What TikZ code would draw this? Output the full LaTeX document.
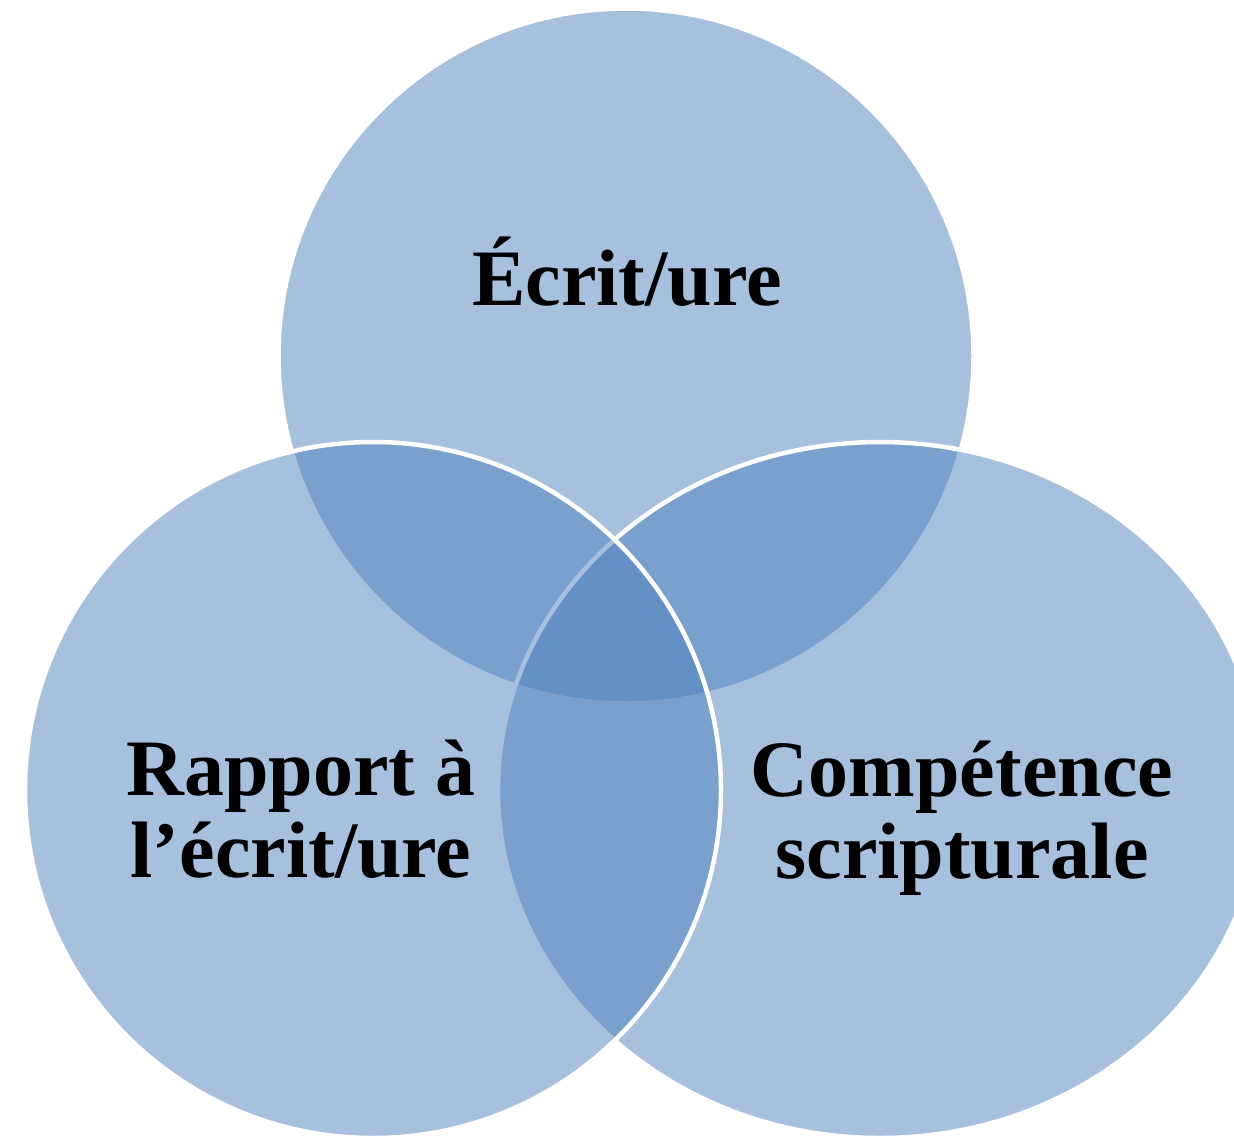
\documentclass[tikz,border=0pt]{standalone}
\usepackage{fontspec}
\setmainfont{Liberation Serif}
\usetikzlibrary{shapes.geometric}
\definecolor{vennblue}{HTML}{4F81BD}
\tikzset{
  venn/.style={fill=vennblue, fill opacity=0.5, draw=white, line width=4.5pt, inner sep=0pt, outer sep=0pt},
  label/.style={font=\fontsize{80}{82}\selectfont\bfseries, text=black, align=center, inner sep=0pt, anchor=base}
}
\begin{document}
\begin{tikzpicture}[x=1pt,y=-1pt]
\useasboundingbox (0,0) rectangle (1234,1140);
\clip (0,0) rectangle (1234,1140);
\node[venn, circle, minimum size=695pt] (top) at (626,356) {};
\node[venn, ellipse, minimum width=764pt, minimum height=696pt] (right) at (880,790) {};
\node[venn, circle, minimum size=696pt] (left) at (373,790) {};
\node[label] (ltop) at (627,305) {Écrit/ure};
\node[label] (lleft) at (301,877) {Rapport à\\l’écrit/ure};
\node[label] (lright) at (962,878) {Compétence\\scripturale};
\end{tikzpicture}
\end{document}
